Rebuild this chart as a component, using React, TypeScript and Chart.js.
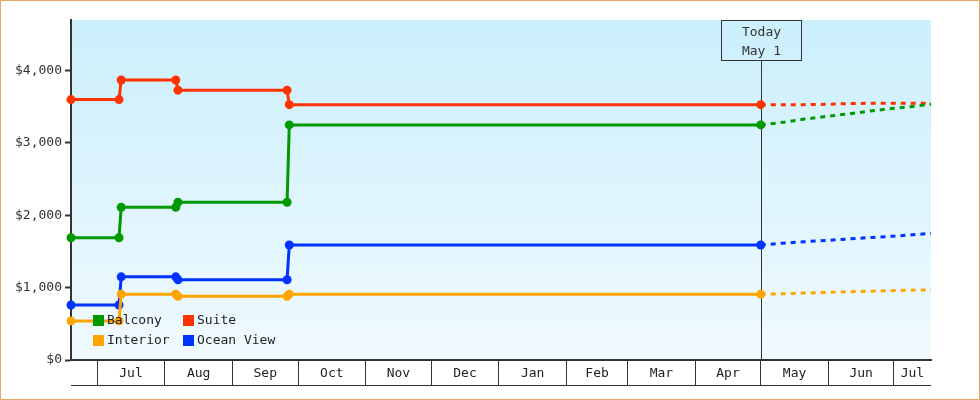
import React, { useEffect, useRef } from 'react';
import { Chart, registerables } from 'chart.js';

Chart.register(...registerables);

// ---- data ----
const rangeStart = '2022-06-19';
const rangeEnd = '2023-07-18';
const todayDate = '2023-05-01';
const todayLabel = ['Today', 'May 1'];
const monthNames = ['Jan', 'Feb', 'Mar', 'Apr', 'May', 'Jun', 'Jul', 'Aug', 'Sep', 'Oct', 'Nov', 'Dec'];

const seriesNames = ['Balcony', 'Suite', 'Interior', 'Ocean View'];
const seriesColors = ['#009900', '#ff3300', '#ffa500', '#0033ff'];

const historyDates = ['2022-06-19', '2022-07-11', '2022-07-12', '2022-08-06', '2022-08-07', '2022-09-26', '2022-09-27', '2023-05-01'];
const balconyHistory = [1690, 1690, 2110, 2110, 2180, 2180, 3250, 3250];
const suiteHistory = [3600, 3600, 3870, 3870, 3730, 3730, 3530, 3530];
const interiorHistory = [540, 540, 910, 910, 880, 880, 910, 910];
const oceanHistory = [760, 760, 1150, 1150, 1110, 1110, 1590, 1590];

const forecastDates = ['2023-05-01', '2023-05-11', '2023-05-21', '2023-06-01', '2023-06-11', '2023-06-21', '2023-07-01', '2023-07-11', '2023-07-18'];
const balconyForecast = [3250, 3285, 3330, 3370, 3405, 3445, 3480, 3510, 3535];
const suiteForecast = [3530, 3530, 3530, 3535, 3545, 3550, 3550, 3550, 3550];
const interiorForecast = [910, 915, 925, 935, 945, 952, 960, 967, 970];
const oceanForecast = [1590, 1615, 1635, 1655, 1675, 1695, 1712, 1735, 1750];

const yTicks = [0, 1000, 2000, 3000, 4000];
const yMax = 4700;

const historySeries = [balconyHistory, suiteHistory, interiorHistory, oceanHistory];
const forecastSeries = [balconyForecast, suiteForecast, interiorForecast, oceanForecast];

// ---- helpers ----
const FONT = '"DejaVu Sans Mono", monospace';
const toUTC = (s: string) => {
  const [y, m, d] = s.split('-').map(Number);
  return Date.UTC(y, m - 1, d);
};
const dayOf = (s: string) => Math.round((toUTC(s) - toUTC(rangeStart)) / 86400000);

const xMin = 0;
const xMax = dayOf(rangeEnd);

// month boundaries inside the range
const boundaries: { day: number; label: string }[] = [];
(() => {
  const s = new Date(toUTC(rangeStart));
  let y = s.getUTCFullYear();
  let m = s.getUTCMonth() + 1;
  if (m > 11) { m = 0; y++; }
  while (true) {
    const t = Date.UTC(y, m, 1);
    const d = Math.round((t - toUTC(rangeStart)) / 86400000);
    if (d >= xMax) break;
    boundaries.push({ day: d, label: monthNames[m] });
    m++;
    if (m > 11) { m = 0; y++; }
  }
})();
const startMonthLabel = monthNames[new Date(toUTC(rangeStart)).getUTCMonth()];

const bgPlugin = {
  id: 'bgGradient',
  beforeDraw(chart: any) {
    const { ctx, chartArea } = chart;
    const g = ctx.createLinearGradient(0, chartArea.top, 0, chartArea.bottom);
    g.addColorStop(0, '#cbeffc');
    g.addColorStop(1, '#f0fafe');
    ctx.save();
    ctx.fillStyle = g;
    ctx.fillRect(chartArea.left, chartArea.top, chartArea.right - chartArea.left, chartArea.bottom - chartArea.top);
    ctx.restore();
  },
};

const todayPlugin = {
  id: 'today',
  beforeDatasetsDraw(chart: any) {
    const { ctx, chartArea } = chart;
    const xs = chart.scales.x;
    const x = Math.round(xs.getPixelForValue(dayOf(todayDate))) + 0.5;
    const top = chartArea.top + 0.5;
    const boxH = 40;
    const boxW = 80;
    ctx.save();
    ctx.strokeStyle = '#333';
    ctx.lineWidth = 1;
    ctx.beginPath();
    ctx.moveTo(x, top + boxH);
    ctx.lineTo(x, chartArea.bottom);
    ctx.stroke();
    ctx.strokeRect(x - boxW / 2, top, boxW, boxH);
    ctx.fillStyle = '#333';
    ctx.font = `13px ${FONT}`;
    ctx.textAlign = 'center';
    ctx.textBaseline = 'middle';
    ctx.fillText(todayLabel[0], x, top + 12);
    ctx.fillText(todayLabel[1], x, top + 31);
    ctx.restore();
  },
};

const overlayPlugin = {
  id: 'overlay',
  afterDraw(chart: any) {
    const { ctx, chartArea } = chart;
    const xs = chart.scales.x;
    ctx.save();
    // bottom line of the month strip
    ctx.strokeStyle = '#333';
    ctx.lineWidth = 1;
    const yb = Math.round(xs.bottom) + 0.5;
    ctx.beginPath();
    ctx.moveTo(chartArea.left, yb);
    ctx.lineTo(chartArea.right, yb);
    ctx.stroke();
    // month labels centred in their segment
    const edges = [{ day: xMin, label: startMonthLabel }, ...boundaries, { day: xMax, label: '' }];
    ctx.fillStyle = '#222';
    ctx.font = `13px ${FONT}`;
    ctx.textAlign = 'center';
    ctx.textBaseline = 'middle';
    for (let i = 0; i < edges.length - 1; i++) {
      const a = xs.getPixelForValue(edges[i].day);
      const b = xs.getPixelForValue(edges[i + 1].day);
      if (b - a < 30) continue;
      ctx.fillText(edges[i].label, (a + b) / 2, (chartArea.bottom + xs.bottom) / 2 + 1);
    }
    // legend inside the chart area
    const lx = chartArea.left + 22;
    const ly = chartArea.bottom - 45;
    const colW = 90;
    const rowH = 20;
    seriesNames.forEach((name, i) => {
      const col = i % 2;
      const row = Math.floor(i / 2);
      const x = lx + col * colW;
      const y = ly + row * rowH;
      ctx.fillStyle = seriesColors[i];
      ctx.fillRect(x, y, 11, 11);
      ctx.fillStyle = '#222';
      ctx.textAlign = 'left';
      ctx.fillText(name, x + 14, y + 6);
    });
    ctx.restore();
  },
};

export default function App() {
  const ref = useRef<HTMLCanvasElement | null>(null);

  useEffect(() => {
    if (!ref.current) return;
    Chart.defaults.font.family = FONT;
    const datasets: any[] = [];
    seriesNames.forEach((name, i) => {
      datasets.push({
        label: name,
        data: historyDates.map((d, k) => ({ x: dayOf(d), y: historySeries[i][k] })),
        borderColor: seriesColors[i],
        backgroundColor: seriesColors[i],
        borderWidth: 3,
        pointRadius: 4.5,
        pointHoverRadius: 4.5,
        pointBorderWidth: 0,
        tension: 0,
        clip: false,
      });
    });
    seriesNames.forEach((name, i) => {
      datasets.push({
        label: name + ' forecast',
        data: forecastDates.map((d, k) => ({ x: dayOf(d), y: forecastSeries[i][k] })),
        borderColor: seriesColors[i],
        backgroundColor: seriesColors[i],
        borderWidth: 3,
        borderDash: [5, 5],
        pointRadius: 0,
        pointHoverRadius: 0,
        tension: 0,
        clip: false,
      });
    });

    const chart = new Chart(ref.current, {
      type: 'line',
      data: { datasets },
      options: {
        animation: false,
        responsive: true,
        maintainAspectRatio: false,
        layout: { padding: { left: 0, top: 19, right: 48, bottom: 14 } },
        plugins: {
          legend: { display: false },
          tooltip: { enabled: false },
        },
        events: [],
        scales: {
          x: {
            type: 'linear',
            min: xMin,
            max: xMax,
            afterBuildTicks: (scale: any) => {
              scale.ticks = boundaries.map((b) => ({ value: b.day }));
            },
            afterFit: (scale: any) => {
              scale.height = 25;
            },
            ticks: { display: false },
            grid: {
              drawOnChartArea: false,
              drawTicks: true,
              tickLength: 25,
              color: '#333',
              lineWidth: 1,
            },
            border: { display: true, color: '#333', width: 2 },
          },
          y: {
            type: 'linear',
            min: 0,
            max: yMax,
            afterBuildTicks: (scale: any) => {
              scale.ticks = yTicks.map((v) => ({ value: v }));
            },
            afterFit: (scale: any) => {
              scale.width = 70;
            },
            ticks: {
              padding: 3,
              color: '#333',
              font: { size: 13, family: FONT },
              callback: (v: any) => '$' + Number(v).toLocaleString('en-US'),
            },
            grid: {
              drawOnChartArea: false,
              drawTicks: true,
              tickLength: 6,
              tickWidth: 2,
              tickColor: '#333',
            },
            border: { display: true, color: '#333', width: 2 },
          },
        },
      },
      plugins: [bgPlugin, todayPlugin, overlayPlugin],
    } as any);
    return () => chart.destroy();
  }, []);

  return (
    <div
      style={{
        position: 'fixed',
        left: 0,
        top: 0,
        width: 980,
        height: 400,
        boxSizing: 'border-box',
        border: '1px solid #eaa862',
        background: '#fff',
      }}
    >
      <div style={{ position: 'relative', width: 978, height: 398 }}>
        <canvas ref={ref} />
      </div>
    </div>
  );
}
